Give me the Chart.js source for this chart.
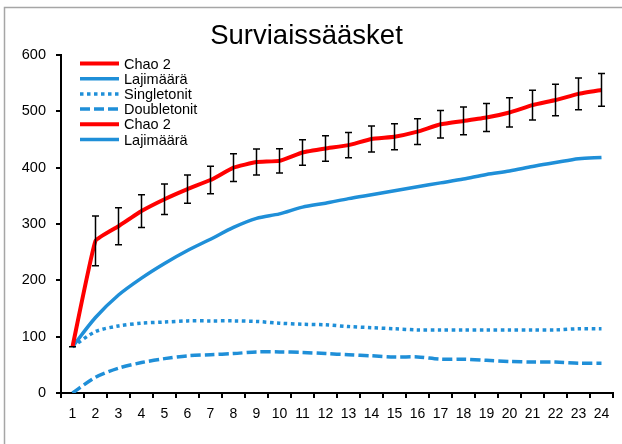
<!DOCTYPE html>
<html>
<head>
<meta charset="utf-8">
<script src="https://cdn.jsdelivr.net/npm/chart.js@4/dist/chart.umd.min.js"></script>
<style>
  html, body { margin: 0; padding: 0; background: #fff; }
  #c { display: block; }
</style>
</head>
<body>
<canvas id="c" width="622" height="444"></canvas>
<script>
// Sample number (näytteiden lukumäärä)
const categories = ['1','2','3','4','5','6','7','8','9','10','11','12','13','14','15','16','17','18','19','20','21','22','23','24'];

// Chao 2 estimate and its standard deviation (error bars)
const chao2 = [82, 270, 296, 323, 344, 362, 378, 400, 410, 412, 427, 434, 440, 451, 455, 464, 477, 483, 489, 498, 511, 520, 531, 538];
const chao2Sd = [0, 44, 33, 29, 27, 25, 24.5, 24.5, 23, 21.5, 22.5, 22.5, 22.5, 23, 23, 23, 24.5, 24.5, 25, 26, 26.5, 28, 28, 29];

// Observed species count, singletons and doubletons
const lajimaara = [82, 134, 174, 204, 230, 253, 273, 294, 310, 318, 330, 337, 345, 352, 359, 366, 373, 380, 388, 394, 402, 409, 416, 418];
const singletonit = [82, 109, 119, 124, 126, 128, 128, 128, 127, 124, 122, 121, 118, 116, 114, 112, 112, 112, 112, 112, 112, 112, 114, 114];
const doubletonit = [0, 28, 44, 54, 61, 66, 68, 70, 73, 73, 72, 70, 68, 66, 64, 64, 60, 60, 58, 56, 55, 55, 53, 53];

// Y-axis ticks
const yTicks = [0, 100, 200, 300, 400, 500, 600];

// Legend rows (label, dataset whose line style is shown)
const legendLabels = ['Chao 2', 'Lajimäärä', 'Singletonit', 'Doubletonit', 'Chao 2', 'Lajimäärä'];
const legendSeries = [0, 1, 2, 3, 0, 1];

const RED = '#ff0000';
const BLUE = '#1f8fd8';
const FONT = "'Liberation Sans', Arial, sans-serif";

Chart.defaults.font.family = FONT;
Chart.defaults.color = '#000';

// Gray frame around the chart (top and left edge)
const framePlugin = {
  id: 'frame',
  beforeDraw(chart) {
    const c = chart.ctx;
    c.save();
    c.fillStyle = '#fff';
    c.fillRect(0, 0, chart.width, chart.height);
    c.strokeStyle = '#a6a6a6';
    c.lineWidth = 1.5;
    c.beginPath();
    c.moveTo(4.5, chart.height);
    c.lineTo(4.5, 7.5);
    c.lineTo(chart.width, 7.5);
    c.stroke();
    c.restore();
  }
};

// Error bars for the Chao 2 series
const errorBarPlugin = {
  id: 'errorBars',
  afterDatasetsDraw(chart) {
    const c = chart.ctx;
    const xs = chart.scales.x, ys = chart.scales.y;
    const cap = 3.5;
    c.save();
    c.strokeStyle = '#000';
    c.lineWidth = 1.5;
    c.setLineDash([]);
    chao2.forEach((v, i) => {
      const x = xs.getPixelForValue(i);
      const yt = ys.getPixelForValue(v + chao2Sd[i]);
      const yb = ys.getPixelForValue(v - chao2Sd[i]);
      c.beginPath();
      c.moveTo(x, yt); c.lineTo(x, yb);
      c.moveTo(x - cap, yt); c.lineTo(x + cap, yt);
      c.moveTo(x - cap, yb); c.lineTo(x + cap, yb);
      c.stroke();
    });
    c.restore();
  }
};

// Legend drawn inside the plot area, top left
const legendPlugin = {
  id: 'innerLegend',
  afterDraw(chart) {
    const c = chart.ctx;
    const a = chart.chartArea;
    const x0 = a.left + 19, x1 = a.left + 58, tx = a.left + 63;
    const y0 = a.top + 8.5, row = 15.2;
    c.save();
    c.font = '14.5px ' + FONT;
    c.textBaseline = 'middle';
    c.textAlign = 'left';
    legendLabels.forEach((lab, i) => {
      const ds = chart.data.datasets[legendSeries[i]];
      const y = y0 + i * row;
      c.strokeStyle = ds.borderColor;
      c.lineWidth = ds.borderWidth;
      c.lineCap = 'butt';
      c.setLineDash(ds.borderDash || []);
      c.beginPath();
      c.moveTo(x0, y); c.lineTo(x1, y);
      c.stroke();
      c.setLineDash([]);
      c.fillStyle = '#000';
      c.fillText(lab, tx, y + 1);
    });
    c.restore();
  }
};

new Chart(document.getElementById('c'), {
  type: 'line',
  data: {
    labels: categories,
    datasets: [
      { label: 'Chao 2', data: chao2, borderColor: RED, borderWidth: 4, tension: 0.1 },
      { label: 'Lajimäärä', data: lajimaara, borderColor: BLUE, borderWidth: 3.5, tension: 0.3 },
      { label: 'Singletonit', data: singletonit, borderColor: BLUE, borderWidth: 3.5, borderDash: [3.5, 3.5], tension: 0.3 },
      { label: 'Doubletonit', data: doubletonit, borderColor: BLUE, borderWidth: 3.5, borderDash: [10, 4], tension: 0.3 }
    ]
  },
  options: {
    responsive: false,
    animation: false,
    devicePixelRatio: 1,
    elements: {
      point: { radius: 0 },
      line: { fill: false, borderCapStyle: 'butt', borderJoinStyle: 'round' }
    },
    layout: { padding: { left: 0, right: 9, top: 0, bottom: 0 } },
    plugins: {
      legend: { display: false },
      tooltip: { enabled: false },
      title: {
        display: true,
        text: 'Surviaissääsket',
        color: '#000',
        font: { family: FONT, size: 27.5, weight: 'normal', lineHeight: 1 },
        padding: { top: 23, bottom: 4.5 }
      }
    },
    scales: {
      x: {
        offset: true,
        grid: { offset: true, drawOnChartArea: false, drawTicks: true, tickLength: 5, color: '#000', lineWidth: 2 },
        border: { display: true, color: '#000', width: 2 },
        ticks: { color: '#000', font: { size: 14 }, padding: 8, maxRotation: 0, autoSkip: false },
        afterFit(s) { s.height = 51; }
      },
      y: {
        min: 0, max: 600,
        afterBuildTicks(s) { s.ticks = yTicks.map(v => ({ value: v })); },
        grid: { drawOnChartArea: false, drawTicks: true, tickLength: 5, color: '#000', lineWidth: 2 },
        border: { display: true, color: '#000', width: 2 },
        ticks: { color: '#000', font: { size: 14.5 }, padding: 10 },
        afterFit(s) { s.width = 61; }
      }
    }
  },
  plugins: [framePlugin, errorBarPlugin, legendPlugin]
});
</script>
</body>
</html>
